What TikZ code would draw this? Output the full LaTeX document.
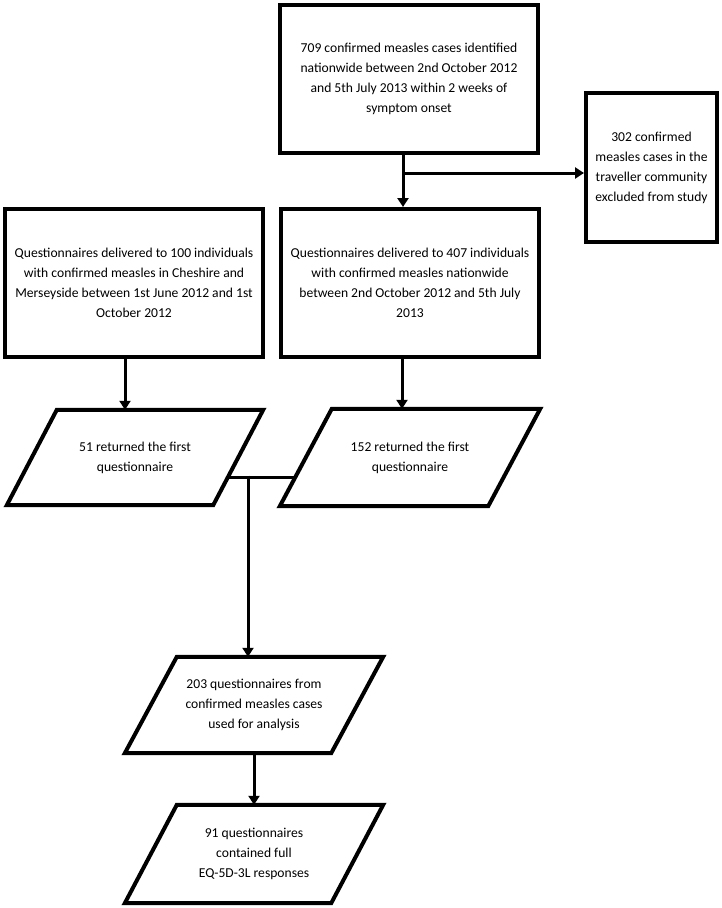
\documentclass[tikz,border=0pt]{standalone}
\usepackage{fontspec}
\setmainfont{Carlito}
\usetikzlibrary{arrows.meta,calc}
\begin{document}
\begin{tikzpicture}[x=1pt,y=-1pt,
  boxline/.style={draw=black, line width=4pt, line join=miter},
  rbox/.style={boxline, rectangle, inner sep=0pt, align=center,
    font=\fontsize{13.6}{20}\selectfont},
  pbody/.style={rectangle, draw=none, inner sep=0pt, align=center,
    font=\fontsize{13.6}{20}\selectfont},
  conn/.style={draw=black, line width=3pt, -{Triangle[length=9pt,width=11pt]}},
  plain/.style={draw=black, line width=3pt}]
\useasboundingbox (0,0) rectangle (721,908);

% rectangles
\node[rbox, minimum width=258pt, minimum height=148pt] (t) at (409,79)
  {709 confirmed measles cases identified\\nationwide between 2nd October 2012\\and 5th July 2013 within 2 weeks of\\symptom onset};
\node[rbox, minimum width=131pt, minimum height=149pt] (r) at (651.5,167.5)
  {302 confirmed\\measles cases in the\\traveller community\\excluded from study};
\node[rbox, minimum width=258pt, minimum height=148pt] (l) at (134,283)
  {Questionnaires delivered to 100 individuals\\with confirmed measles in Cheshire and\\Merseyside between 1st June 2012 and 1st\\October 2012};
\node[rbox, minimum width=258pt, minimum height=148pt] (m) at (410,283)
  {Questionnaires delivered to 407 individuals\\with confirmed measles nationwide\\between 2nd October 2012 and 5th July\\2013};

% parallelograms
\node[pbody, minimum width=256pt, minimum height=95pt] (p1) at (135,457.5)
  {51 returned the first\\questionnaire};
\draw[boxline] ($(p1.north west)+(50,0)$) -- (p1.north east) -- ($(p1.south east)-(50,0)$) -- (p1.south west) -- cycle;
\node[pbody, minimum width=260pt, minimum height=97pt] (p2) at (410,457.5)
  {152 returned the first\\questionnaire};
\draw[boxline] ($(p2.north west)+(52,0)$) -- (p2.north east) -- ($(p2.south east)-(52,0)$) -- (p2.south west) -- cycle;
\node[pbody, minimum width=258pt, minimum height=96pt] (p3) at (254,705)
  {203 questionnaires from\\confirmed measles cases\\used for analysis};
\draw[boxline] ($(p3.north west)+(52,0)$) -- (p3.north east) -- ($(p3.south east)-(52,0)$) -- (p3.south west) -- cycle;
\node[pbody, minimum width=258pt, minimum height=98pt] (p4) at (254,854)
  {91 questionnaires\\contained full\\EQ-5D-3L responses};
\draw[boxline] ($(p4.north west)+(52,0)$) -- (p4.north east) -- ($(p4.south east)-(52,0)$) -- (p4.south west) -- cycle;

% connectors
\draw[conn] ([xshift=-6pt]t.south) -- ([xshift=-6pt]t.south |- m.north);
\coordinate (br) at (403,173);
\draw[conn] (br) -- (br -| r.west);
\draw[conn] ([xshift=-9pt]l.south) -- ([xshift=-9pt]l.south |- p1.north);
\draw[conn] ([xshift=-8pt]m.south) -- ([xshift=-8pt]m.south |- p2.north);
\coordinate (ja) at (227.5,477);
\coordinate (jb) at (295.5,477);
\coordinate (j) at (248,477);
\draw[plain] (ja) -- (jb);
\draw[conn] ([yshift=1.5pt]j) -- (j |- p3.north);
\draw[conn] (p3.south) -- (p4.north);
\end{tikzpicture}
\end{document}
